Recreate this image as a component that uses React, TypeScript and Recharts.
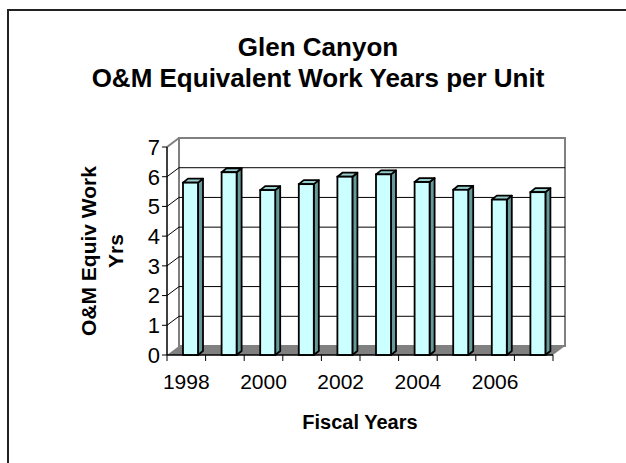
import { BarChart, Bar, XAxis, YAxis, ReferenceArea, ReferenceLine } from "recharts";

const years = ["1998", "1999", "2000", "2001", "2002", "2003", "2004", "2005", "2006", "2007"];
const workYears = [5.8, 6.15, 5.55, 5.75, 6.0, 6.08, 5.82, 5.56, 5.23, 5.48];
const yTicks = [0, 1, 2, 3, 4, 5, 6, 7];
const wallLines = [1, 2, 3, 4, 5, 6];

const data = years.map((year, i) => ({ year, value: workYears[i] }));

// depth of the fake 3D walls and bars
const DX = 12;
const DY = 9;
const BAR_DX = 5;
const BAR_DY = 4;
const BAR_SHIFT = 4;

function Bar3D(props: any) {
  const { x, y, width, height } = props;
  if (height == null || height <= 0) return null;
  const fx = x + BAR_SHIFT;
  const r = fx + width;
  const b = y + height;
  return (
    <g>
      <polygon
        points={`${r},${y} ${r + BAR_DX},${y - BAR_DY} ${r + BAR_DX},${b - BAR_DY} ${r},${b}`}
        fill="#669999"
        stroke="#000"
        strokeWidth={1.8}
        strokeLinejoin="round"
      />
      <polygon
        points={`${fx},${y} ${fx + BAR_DX},${y - BAR_DY} ${r + BAR_DX},${y - BAR_DY} ${r},${y}`}
        fill="#99CCCC"
        stroke="#000"
        strokeWidth={1.8}
        strokeLinejoin="round"
      />
      <rect x={fx} y={y} width={width} height={height} fill="#CCFFFF" stroke="#000" strokeWidth={1.8} />
    </g>
  );
}

function Walls(props: any) {
  const { x, y, width, height } = props;
  const b = y + height;
  return (
    <g>
      <polygon points={`${x},${y} ${x + DX},${y - DY} ${x + DX},${b - DY} ${x},${b}`} fill="#fff" />
      <rect x={x + DX} y={y - DY} width={width} height={height} fill="#fff" stroke="#808080" strokeWidth={2} />
      <line x1={x} y1={y} x2={x + DX} y2={y - DY} stroke="#808080" strokeWidth={2} />
      <polygon
        points={`${x},${b} ${x + DX},${b - DY} ${x + width + DX},${b - DY} ${x + width},${b}`}
        fill="#808080"
      />
    </g>
  );
}

function WallGridLine(props: any) {
  const { x1, x2, y1 } = props;
  const left = Math.min(x1, x2);
  const right = Math.max(x1, x2);
  return (
    <g>
      <line x1={left} y1={y1} x2={left + DX} y2={y1 - DY} stroke="#000" strokeWidth={1} />
      <line x1={left + DX} y1={y1 - DY} x2={right + DX} y2={y1 - DY} stroke="#000" strokeWidth={1} />
    </g>
  );
}

function XTick(props: any) {
  const { x, y, payload, width, index } = props;
  const half = payload && payload.offset ? payload.offset : width / (2 * years.length);
  const axisY = y - 8;
  return (
    <g>
      {index === 0 && <line x1={x - half} y1={axisY} x2={x - half} y2={axisY + 6} stroke="#000" />}
      <line x1={x + half} y1={axisY} x2={x + half} y2={axisY + 6} stroke="#000" />
      {index % 2 === 0 && (
        <text x={x} y={axisY + 34} textAnchor="middle" fontSize={21} fill="#000">
          {payload.value}
        </text>
      )}
    </g>
  );
}

function YTitle(props: any) {
  const { viewBox } = props;
  if (!viewBox) return null;
  const cy = viewBox.y + viewBox.height / 2;
  const x1 = viewBox.x + 36;
  const x2 = viewBox.x + 63;
  return (
    <g fontWeight="bold" fontSize={21} fill="#000">
      <text x={x1} y={cy} textAnchor="middle" transform={`rotate(-90 ${x1} ${cy})`}>
        O&amp;M Equiv Work
      </text>
      <text x={x2} y={cy} textAnchor="middle" transform={`rotate(-90 ${x2} ${cy})`}>
        Yrs
      </text>
    </g>
  );
}

function XTitle(props: any) {
  const { viewBox } = props;
  if (!viewBox) return null;
  return (
    <text x={viewBox.x + viewBox.width / 2} y={viewBox.y + 74} textAnchor="middle" fontWeight="bold" fontSize={20} fill="#000">
      Fiscal Years
    </text>
  );
}

export default function App() {
  return (
    <div
      style={{
        position: "absolute",
        left: 0,
        top: 0,
        width: 626,
        height: 463,
        overflow: "hidden",
        background: "#fff",
        fontFamily: "'Liberation Sans', Arial, sans-serif",
      }}
    >
      <div
        style={{
          position: "absolute",
          left: 7,
          top: 9,
          width: 800,
          height: 600,
          border: "2px solid #222",
        }}
      />
      <div
        style={{
          position: "absolute",
          left: 0,
          top: 32,
          width: 636,
          textAlign: "center",
          fontWeight: "bold",
          fontSize: 26,
          lineHeight: "31px",
          color: "#000",
        }}
      >
        Glen Canyon
        <br />
        O&amp;M Equivalent Work Years per Unit
      </div>
      <div style={{ position: "absolute", left: 0, top: 0 }}>
        <BarChart
          width={626}
          height={463}
          data={data}
          margin={{ top: 147, right: 73, left: 60, bottom: 48 }}
          barSize={15}
        >
          <XAxis
            dataKey="year"
            interval={0}
            height={60}
            tickSize={6}
            tickMargin={2}
            tickLine={false}
            axisLine={{ stroke: "#000", strokeWidth: 1.5 }}
            tick={<XTick />}
            label={<XTitle />}
          />
          <YAxis
            domain={[0, 7]}
            ticks={yTicks}
            interval={0}
            width={107}
            tickSize={5}
            tickLine={{ stroke: "#000" }}
            axisLine={{ stroke: "#000", strokeWidth: 1.5 }}
            tick={{ fill: "#000", fontSize: 22 }}
            label={<YTitle />}
          />
          <ReferenceArea y1={0} y2={7} shape={<Walls />} zIndex={-60} />
          {wallLines.map((v) => (
            <ReferenceLine key={v} y={v} shape={<WallGridLine />} zIndex={-50} />
          ))}
          <Bar dataKey="value" shape={<Bar3D />} isAnimationActive={false} />
        </BarChart>
      </div>
    </div>
  );
}
